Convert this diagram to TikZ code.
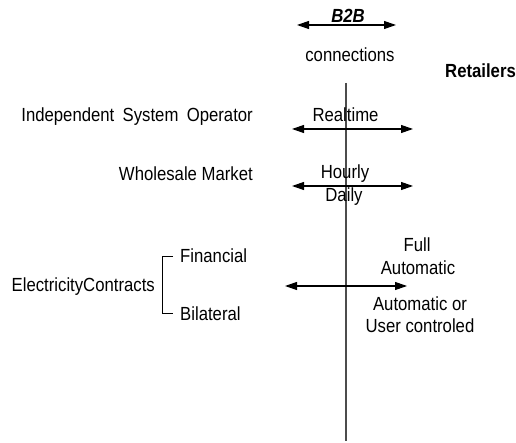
\documentclass[tikz,border=0pt]{standalone}
\usepackage{fontspec}
\usepackage{graphicx}
\setmainfont{Liberation Sans}
\usetikzlibrary{arrows.meta}
% narrow the glyphs horizontally
\newcommand\sq[1]{\scalebox{0.88}[1]{#1}}
\begin{document}
\begin{tikzpicture}[x=1pt,y=-1pt,
  lbl/.style={inner sep=0pt,font=\fontsize{19}{22}\selectfont},
  twoway/.style={line width=1.1pt,{Triangle[length=12pt,width=8pt]}-{Triangle[length=12pt,width=8pt]}},
  axis/.style={line width=1.4pt,black!70},
  brace/.style={line width=0.9pt}]
\useasboundingbox (0,0) rectangle (516,443);

% central divider
\coordinate (axtop) at (346,83);
\coordinate (axbot) at (346,441);
\draw[axis] (axtop) -- (axbot);

% header
\coordinate (bL) at (297,25);
\coordinate (bR) at (396,25);
\draw[twoway] (bL) -- (bR);
\node[lbl,anchor=base,font=\fontsize{19}{22}\selectfont\bfseries\itshape] (b2b) at (348,23) {\sq{B2B}};
\node[lbl,anchor=base] (conn) at (350,62) {\sq{connections}};
\node[lbl,anchor=base west,font=\fontsize{19}{22}\selectfont\bfseries] (ret) at (445,78) {\sq{Retailers}};

% independent system operator
\node[lbl,anchor=base east] (iso) at (253,122) {\sq{Independent\hspace{0.5em}System\hspace{0.5em}Operator}};
\node[lbl,anchor=base] (rt) at (345.5,122) {\sq{Realtime}};
\coordinate (rtL) at (292,129);
\coordinate (rtR) at (413,129);
\draw[twoway] (rtL) -- (rtR);

% wholesale market
\node[lbl,anchor=base east] (wm) at (253,180.5) {\sq{Wholesale Market}};
\node[lbl,anchor=base] (hr) at (345,179) {\sq{Hourly}};
\node[lbl,anchor=base] (dl) at (344,202) {\sq{Daily}};
\coordinate (hrL) at (292,186);
\coordinate (hrR) at (413,186);
\draw[twoway] (hrL) -- (hrR);

% electricity contracts
\node[lbl,anchor=base east] (ec) at (155,291) {\sq{ElectricityContracts}};
\node[lbl,anchor=base west] (fin) at (180,263) {\sq{Financial}};
\node[lbl,anchor=base west] (bil) at (180,320) {\sq{Bilateral}};
\draw[brace] ([xshift=-7pt]fin.west) -- ([xshift=-18pt]fin.west) |- ([xshift=-7pt]bil.west);
\coordinate (ecL) at (285,286);
\coordinate (ecR) at (407,286);
\draw[twoway] (ecL) -- (ecR);
\node[lbl,anchor=base] (full) at (417,252) {\sq{Full}};
\node[lbl,anchor=base] (auto) at (418,275) {\sq{Automatic}};
\node[lbl,anchor=base] (autoor) at (420,310) {\sq{Automatic or}};
\node[lbl,anchor=base] (user) at (420,332) {\sq{User controled}};
\end{tikzpicture}
\end{document}
